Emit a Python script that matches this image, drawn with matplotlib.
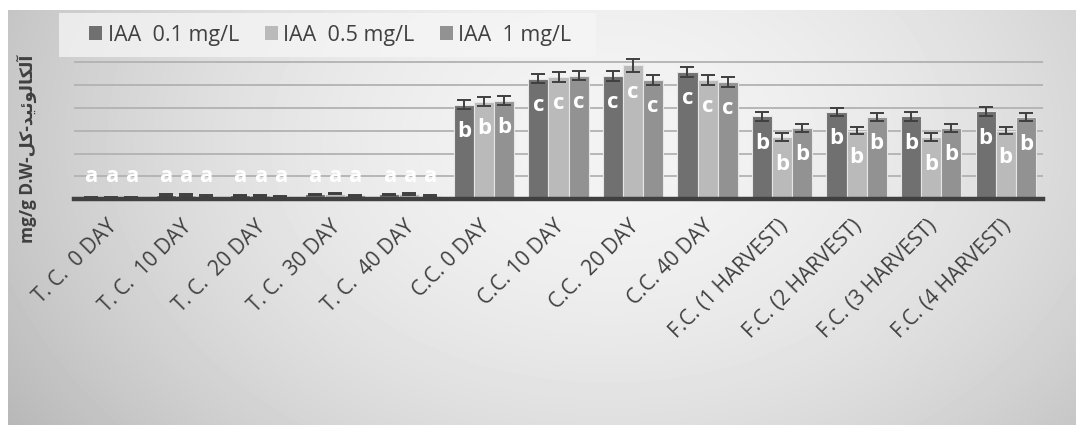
import numpy as np
import matplotlib.pyplot as plt
import matplotlib.transforms as mtransforms
from matplotlib.patches import Rectangle

plt.rcParams['font.family'] = ['Open Sans', 'DejaVu Sans']

categories = ["T. C.  0 DAY", "T. C.  10 DAY", "T. C.  20 DAY", "T. C.  30 DAY",
              "T. C.  40 DAY", "C.C. 0 DAY", "C.C. 10 DAY", "C.C.  20 DAY",
              "C.C. 40 DAY", "F.C. (1 HARVEST)", "F.C. (2 HARVEST)",
              "F.C. (3 HARVEST)", "F.C. (4 HARVEST)"]

series_names = ["IAA  0.1 mg/L", "IAA  0.5 mg/L", "IAA  1 mg/L"]

iaa_01 = [0.10, 0.20, 0.18, 0.22, 0.22, 4.13, 5.26, 5.37, 5.55, 3.61, 3.81, 3.61, 3.83]
iaa_05 = [0.10, 0.20, 0.18, 0.25, 0.24, 4.26, 5.33, 5.83, 5.20, 2.71, 3.00, 2.71, 3.00]
iaa_1 = [0.10, 0.15, 0.14, 0.18, 0.16, 4.30, 5.39, 5.20, 5.11, 3.12, 3.60, 3.12, 3.58]

err_01 = [0.03, 0.03, 0.03, 0.03, 0.03, 0.20, 0.21, 0.21, 0.22, 0.18, 0.18, 0.18, 0.18]
err_05 = [0.03, 0.03, 0.03, 0.03, 0.03, 0.20, 0.21, 0.29, 0.20, 0.16, 0.16, 0.16, 0.16]
err_1 = [0.03, 0.03, 0.03, 0.03, 0.03, 0.20, 0.21, 0.21, 0.21, 0.18, 0.18, 0.18, 0.18]

letters_01 = ["a", "a", "a", "a", "a", "b", "c", "c", "c", "b", "b", "b", "b"]
letters_05 = ["a", "a", "a", "a", "a", "b", "c", "c", "c", "b", "b", "b", "b"]
letters_1 = ["a", "a", "a", "a", "a", "b", "c", "c", "c", "b", "b", "b", "b"]

values = [iaa_01, iaa_05, iaa_1]
errors = [err_01, err_05, err_1]
letters = [letters_01, letters_05, letters_1]
colors = ["#707070", "#bababa", "#929292"]

W, H = 1076, 425
fig = plt.figure(figsize=(W / 100, H / 100), dpi=100)
fig.patch.set_facecolor("white")

# soft radial grey backdrop
bg = fig.add_axes([8 / W, 0, 1 - 8 / W, 1 - 10 / H], zorder=-10)
yy, xx = np.mgrid[0:415, 0:1068]
r = np.sqrt(((xx - 600) / 600.0) ** 2 + ((yy - 130) / 430.0) ** 2)
shade = 0.955 - 0.17 * np.clip(r, 0, 1.3) ** 1.8
bg.imshow(shade, cmap="gray", vmin=0, vmax=1, aspect="auto",
          extent=[0, 1, 0, 1], origin="upper", interpolation="bilinear")
bg.axis("off")

px = 23.0  # pixels per unit
ax = fig.add_axes([74 / W, (H - 199.5) / H, (1043 - 74) / W, 7 * px / H])
ax.set_facecolor("none")

x = np.arange(len(categories))
bw = 0.27
for i in range(3):
    pos = x + (i - 1) * bw
    ax.bar(pos, values[i], width=bw, color=colors[i], edgecolor="#e6e6e6",
           linewidth=0.8, zorder=3, label=series_names[i])
    ax.errorbar(pos, values[i], yerr=errors[i], fmt="none", ecolor="#3f3f3f",
                elinewidth=1.4, capsize=5, capthick=1.4, zorder=4)
    for p, v, t in zip(pos, values[i], letters[i]):
        yt = 1.0 if v < 1 else v - 1.17
        ax.text(p, yt, t, color="white", fontsize=16, fontweight="bold",
                ha="center", va="center", zorder=5)

ax.set_xlim(-0.5, len(categories) - 0.5)
ax.set_ylim(0, 7)
ax.set_yticks(np.arange(1, 7))
ax.yaxis.grid(True, color="#b2b2b2", linewidth=1.3, zorder=0)
ax.tick_params(axis="y", length=0, labelleft=False)
ax.tick_params(axis="x", length=0, pad=4)
for s in ["top", "right", "left"]:
    ax.spines[s].set_visible(False)
ax.spines["bottom"].set_color("#404040")
ax.spines["bottom"].set_linewidth(3.2)
ax.spines["bottom"].set_zorder(6)
ax.set_xticks(x)
ax.set_xticklabels(categories, rotation=45, ha="right", va="top",
                   rotation_mode="anchor", fontsize=15, color="#404040")
shift = mtransforms.ScaledTranslation(-5 / 100, -11 / 100, fig.dpi_scale_trans)
for lbl in ax.get_xticklabels():
    lbl.set_transform(lbl.get_transform() + shift)

# y axis title: latin part followed by Persian words in visual (shaped) order
kol = "\uFEDE\uFB90"
alkaloid = "\uFEAA\uFBFF\uFE8B\uFEEE\uFEDF\uFE8E\uFB91\uFEDF\uFE81"
fig.text(27 / W, 1 - 149 / H, "mg/g D.W-" + kol + "-" + alkaloid,
         rotation=90, ha="center", va="center", fontsize=12.5,
         fontweight="bold", color="#404040",
         family=["Open Sans", "DejaVu Sans"])

# legend panel
fig.patches.append(Rectangle((59 / W, 1 - 57 / H), (596 - 59) / W, 44 / H,
                             transform=fig.transFigure, facecolor="#f6f6f6",
                             alpha=0.75, edgecolor="none", zorder=1))
leg = fig.legend(loc="center left", bbox_to_anchor=(70 / W, 1 - 35 / H),
                 ncol=3, frameon=False, fontsize=15.5, handlelength=0.6,
                 handleheight=0.6, handletextpad=0.25, columnspacing=1.2,
                 labelcolor="#404040")
for h in leg.legend_handles:
    h.set_edgecolor("none")

fig.savefig("out.png", dpi=100)
